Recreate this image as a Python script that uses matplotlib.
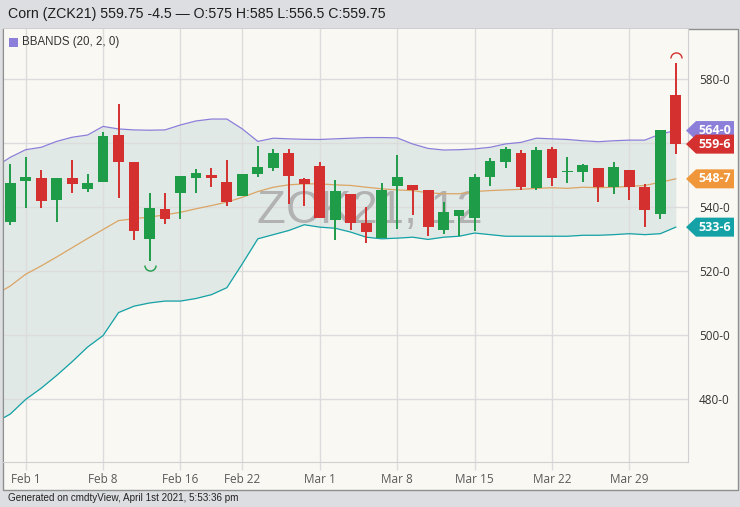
import matplotlib
matplotlib.use('Agg')
import matplotlib.pyplot as plt
import numpy as np
from matplotlib.path import Path
from matplotlib.patches import Rectangle, Polygon
import matplotlib.transforms as mtransforms

# ---------------- data ----------------
dates = ['Jan 29',
         'Feb 1', 'Feb 2', 'Feb 3', 'Feb 4', 'Feb 5',
         'Feb 8', 'Feb 9', 'Feb 10', 'Feb 11', 'Feb 12',
         'Feb 16', 'Feb 17', 'Feb 18', 'Feb 19',
         'Feb 22', 'Feb 23', 'Feb 24', 'Feb 25', 'Feb 26',
         'Mar 1', 'Mar 2', 'Mar 3', 'Mar 4', 'Mar 5',
         'Mar 8', 'Mar 9', 'Mar 10', 'Mar 11', 'Mar 12',
         'Mar 15', 'Mar 16', 'Mar 17', 'Mar 18', 'Mar 19',
         'Mar 22', 'Mar 23', 'Mar 24', 'Mar 25', 'Mar 26',
         'Mar 29', 'Mar 30', 'Mar 31', 'Apr 1']

opens = [535.5, 548.25, 549.0, 542.25, 549.0, 545.75, 547.75, 562.5, 554.0, 530.0,
         539.5, 544.5, 549.25, 550.0, 548.0, 543.5, 550.25, 552.25, 557.0, 548.75,
         553.0, 536.0, 544.0, 535.0, 530.5, 546.75, 547.0, 545.25, 532.75, 537.25,
         536.75, 549.5, 554.0, 557.0, 546.0, 558.25, 551.0, 551.0, 552.25, 546.25,
         551.75, 546.25, 538.0, 575.0]
highs = [553.5, 555.75, 551.75, 549.0, 554.75, 550.5, 563.5, 572.25, 554.0, 544.5,
         544.5, 549.75, 552.0, 552.25, 554.75, 550.5, 559.25, 558.25, 558.25, 549.0,
         554.25, 548.5, 544.0, 540.0, 547.5, 556.25, 547.0, 545.25, 541.5, 539.0,
         550.5, 555.5, 558.75, 558.0, 559.0, 559.0, 555.75, 553.5, 552.25, 554.0,
         551.75, 547.25, 564.25, 585.0]
lows = [534.5, 539.75, 539.75, 535.25, 544.5, 544.75, 547.75, 543.0, 529.75, 523.25,
        534.75, 536.25, 544.5, 546.25, 540.5, 543.5, 549.5, 551.25, 541.0, 540.25,
        536.5, 529.75, 532.75, 528.75, 530.5, 533.25, 537.5, 531.0, 531.75, 531.0,
        532.5, 546.5, 552.25, 545.25, 545.5, 546.75, 547.5, 548.0, 541.5, 544.0,
        542.25, 533.75, 536.25, 556.5]
closes = [547.5, 549.5, 542.0, 549.0, 547.25, 547.5, 562.25, 554.0, 532.5, 539.75,
          536.25, 549.75, 550.75, 549.0, 541.5, 550.5, 552.5, 557.0, 549.75, 547.25,
          536.5, 545.0, 535.0, 532.25, 545.5, 549.5, 545.5, 533.75, 538.5, 539.0,
          549.5, 554.5, 558.25, 546.25, 558.0, 549.0, 551.25, 553.25, 546.25, 552.5,
          546.25, 539.0, 564.25, 559.75]

# Bollinger bands (20, 2); first point is Jan 28
band_dates = ['Jan 28'] + dates
bb_upper = [552.5,
            555.6, 558.0, 558.75, 560.6, 561.9, 562.6, 565.3, 564.5, 564.2, 564.1,
            564.2, 565.75, 567.0, 567.6, 567.6, 564.5, 560.6, 561.6, 561.4, 561.25,
            561.2, 561.4, 561.6, 561.8, 561.8, 561.7, 559.8, 558.4, 557.9, 558.0,
            558.25, 558.75, 559.8, 560.3, 561.6, 561.4, 561.2, 560.8, 560.5, 560.8,
            561.0, 561.0, 562.9, 564.0]
bb_middle = [512.5,
             515.3, 519.0, 521.6, 524.4, 527.3, 530.2, 533.0, 535.8, 536.4, 536.9,
             537.6, 538.4, 539.5, 540.5, 541.6, 543.1, 544.9, 546.25, 547.0, 547.3,
             547.3, 547.0, 546.8, 546.25, 545.75, 545.4, 545.2, 544.5, 544.2, 544.2,
             544.9, 545.2, 545.4, 545.6, 545.9, 546.1, 545.9, 546.25, 546.1, 546.25,
             546.5, 546.8, 547.8, 548.875]
bb_lower = [472.5,
            475.2, 479.8, 483.3, 487.3, 491.6, 496.2, 499.8, 507.0, 509.0, 510.0,
            510.6, 510.6, 511.4, 512.6, 514.8, 522.3, 530.1, 531.4, 532.7, 534.5,
            533.75, 533.4, 532.2, 530.6, 530.1, 530.3, 530.6, 529.9, 530.6, 530.9,
            531.9, 531.4, 530.9, 530.9, 530.9, 530.9, 530.9, 531.2, 531.2, 531.4,
            531.7, 531.4, 531.7, 533.75]

tick_labels = ['Feb 1', 'Feb 8', 'Feb 16', 'Feb 22', 'Mar 1', 'Mar 8',
               'Mar 15', 'Mar 22', 'Mar 29']
y_ticks = [480, 500, 520, 540, 560, 580]

title = 'Corn (ZCK21) 559.75 -4.5 \u2014 O:575 H:585 L:556.5 C:559.75'
legend_label = 'BBANDS (20, 2, 0)'
watermark = 'ZCK21, 12'
footer = 'Generated on cmdtyView, April 1st 2021, 5:53:36 pm'

# ---------------- style ----------------
W, H = 740, 507
BG_BAR = '#dcdee1'
CREAM = '#faf8f3'
FILL = '#e0e9e5'
GRID = '#dcdcdc'
GREEN = '#1f9c48'
RED = '#d3302f'
C_UP = '#8c7fda'
C_MID = '#f0973c'
C_LOW = '#14a2a6'
C_MID_LINE = '#dba566'

def fmt_price(v):
    whole = int(np.floor(v + 1e-9))
    eighths = int(round((v - whole) * 8))
    if eighths == 8:
        whole, eighths = whole + 1, 0
    return f'{whole}-{eighths}'

fig = plt.figure(figsize=(W / 100, H / 100), dpi=100)
fig.patch.set_facecolor(BG_BAR)

def fx(px):
    return px / W

def fy(py):
    return 1 - py / H

# outer frame (cream panel)
fig.patches.append(Rectangle((fx(3), fy(490)), fx(738) - fx(3), fy(29) - fy(490),
                             transform=fig.transFigure, facecolor=CREAM,
                             edgecolor='#8f8f8f', linewidth=1.0, zorder=-5))

ax = fig.add_axes([fx(3), fy(462), fx(688) - fx(3), fy(29) - fy(462)])
ax.set_zorder(1)
ax.set_facecolor(CREAM)

x = np.arange(len(dates))
xb = np.arange(-1, len(dates))

ax.set_xlim(-0.465, 43.79)
ax.set_ylim(460.2, 595.8)

# bands
ax.fill_between(xb, bb_lower, bb_upper, color=FILL, zorder=0.3, linewidth=0)
ax.plot(xb, bb_upper, color=C_UP, lw=0.9, zorder=2)
ax.plot(xb, bb_middle, color=C_MID_LINE, lw=0.9, zorder=2)
ax.plot(xb, bb_lower, color=C_LOW, lw=0.9, zorder=2)

# watermark
ax.text(0.535, 0.58, watermark, transform=ax.transAxes, ha='center', va='center',
        fontsize=34, color='#b2b2b2', family='Liberation Sans', zorder=1.5)

# candles
o = np.array(opens); c = np.array(closes); h = np.array(highs); l = np.array(lows)
colors = [GREEN if cc >= oo else RED for oo, cc in zip(o, c)]
ax.vlines(x, l, h, colors=colors, linewidth=1.4, zorder=3)
body_bottom = np.minimum(o, c)
body_height = np.maximum(np.abs(c - o), 0.4)
ax.bar(x, body_height, bottom=body_bottom, width=0.7, color=colors, zorder=4,
       linewidth=0)

# high/low arcs
arc_up = Path.arc(0, 180)
arc_dn = Path.arc(180, 360)
i_hi = int(np.argmax(h)); i_lo = int(np.argmin(l))
ax.plot([x[i_hi]], [h[i_hi] + 1.8], marker=arc_up, markersize=8, fillstyle='none',
        markeredgecolor=colors[i_hi], markeredgewidth=1.0, linestyle='none', zorder=4)
ax.plot([x[i_lo]], [l[i_lo] - 1.5], marker=arc_dn, markersize=8, fillstyle='none',
        markeredgecolor=colors[i_lo], markeredgewidth=1.0, linestyle='none', zorder=4)

# grid & axes
ax.set_axisbelow(True)
ax.set_xticks([dates.index(t) for t in tick_labels])
ax.set_xticklabels(tick_labels)
ax.set_yticks(y_ticks)
ax.set_yticklabels([fmt_price(v) for v in y_ticks])
ax.grid(True, color=GRID, linewidth=1.0)
ax.yaxis.tick_right()
ax.tick_params(axis='y', length=0, pad=8, labelsize=8.5, labelcolor='#333333')
ax.tick_params(axis='x', length=6, width=1.0, color=GRID, pad=2, labelsize=8.5,
               labelcolor='#5a5a5a')
for lab in ax.get_xticklabels() + ax.get_yticklabels():
    lab.set_family('Open Sans')
ax.spines['top'].set_visible(False)
ax.spines['left'].set_color('#8f8f8f')
ax.spines['bottom'].set_color('#d0d0d0')
ax.spines['right'].set_color('#d0d0d0')

# legend
fig.patches.append(Rectangle((fx(9), fy(47)), fx(18) - fx(9), fy(38) - fy(47),
                             transform=fig.transFigure, facecolor=C_UP,
                             edgecolor='none', zorder=5))
fig.text(fx(22), fy(42.5), legend_label, fontsize=8.3, family='Liberation Sans',
         color='#333333', va='center', ha='left', zorder=5)

# price tags on right axis
trans = mtransforms.blended_transform_factory(fig.transFigure, ax.transData)
units_per_px = (595.8 - 460.2) / (462 - 29)
half = 9.5 * units_per_px
tags = [(bb_upper[-1], C_UP), (closes[-1], RED), (bb_middle[-1], C_MID), (bb_lower[-1], C_LOW)]
for val, col in tags:
    poly = Polygon([(fx(686), val), (fx(696), val + half), (fx(734), val + half),
                    (fx(734), val - half), (fx(696), val - half)], closed=True,
                   transform=trans, facecolor=col, edgecolor='none', clip_on=False,
                   zorder=6)
    ax.add_patch(poly)
    ax.text(fx(715), val, fmt_price(val), transform=trans, ha='center', va='center',
            color='white', fontsize=9, fontweight='bold', family='Open Sans',
            clip_on=False, zorder=7)

# title & footer
fig.text(fx(8), fy(14), title, fontsize=10.2, family='Liberation Sans', color='#1e1e1e',
         va='center', ha='left')
fig.text(fx(8), fy(498), footer, fontsize=7.1, family='Liberation Sans', color='#222222',
         va='center', ha='left')

fig.savefig('out.png', dpi=100, facecolor=fig.get_facecolor())
